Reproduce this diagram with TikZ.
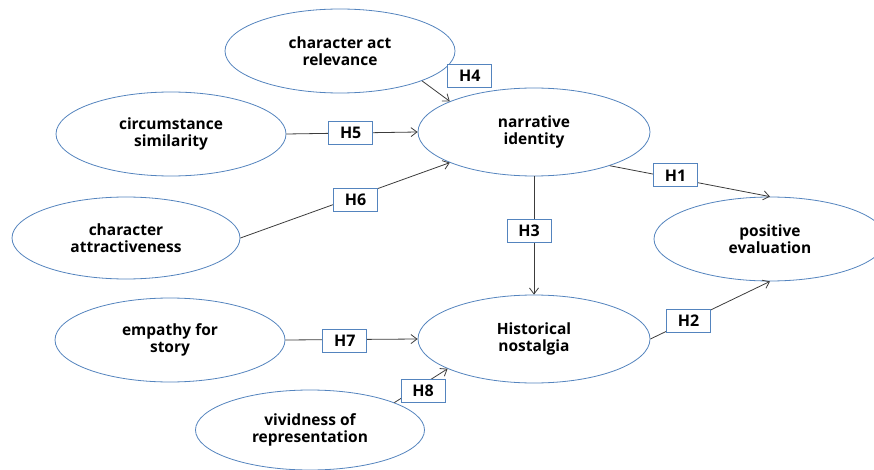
\documentclass[tikz,border=0pt]{standalone}
\usepackage{fontspec}
\setmainfont{Open Sans}
\usepackage{tikz}
\usetikzlibrary{shapes,arrows.meta}

\begin{document}
\begin{tikzpicture}[x=1pt, y=-1pt, thick]
  % Colours of the research model
  \definecolor{cRim}{RGB}{84,132,190}    % ellipse and box outline
  \definecolor{cPath}{RGB}{60,60,60}     % paths between constructs

  \tikzset{
    construct/.style={ellipse, draw=cRim, line width=0.8pt, fill=white,
      minimum width=230pt, minimum height=84pt, inner sep=0pt, align=center,
      font=\bfseries\fontsize{15.5}{17.5}\selectfont},
    hypo/.style={draw=cRim, line width=0.8pt, fill=white, minimum width=44pt,
      minimum height=23pt, inner sep=0pt, font=\bfseries\fontsize{16}{18}\selectfont},
    link/.style={draw=cPath, line width=0.8pt, -{Straight Barb[length=6pt,width=9pt]}}
  }

  % Frame of the page (the right ellipse runs past it)
  \useasboundingbox (0,0) rectangle (874,470);
  \clip (0,0) rectangle (874,470);

  % Antecedents on the left
  \node[construct] (car) at (340,51)  {character act\\relevance};
  \node[construct] (cs)  at (171,134) {circumstance\\similarity};
  \node[construct, minimum width=228pt, minimum height=82pt] (ca) at (126,238) {character\\attractiveness};
  \node[construct] (es)  at (170,340) {empathy for\\story};
  \node[construct, minimum width=229pt, minimum height=80pt] (vr) at (310,430) {vividness of\\representation};

  % Mediators in the middle
  \node[construct, minimum width=232pt, minimum height=88pt] (ni) at (534,132) {narrative\\identity};
  \node[construct, minimum width=232pt, minimum height=88pt] (hn) at (534,339) {Historical\\nostalgia};

  % Outcome on the right
  \node[construct, minimum width=232pt] (pe) at (770,239) {positive\\evaluation};

  % Hypothesised paths
  \draw[link] (car.-20) -- (ni.160) node[hypo, pos=0.5, xshift=34pt, yshift=15pt] {H4};
  \draw[link] (cs.east) -- (ni.west) node[hypo, pos=0.49] {H5};
  \draw[link] (ca.east) -- (ni.200) node[hypo, pos=0.55, yshift=-3pt] {H6};
  \draw[link] (ni.-24) -- (pe.north) node[hypo, pos=0.41, yshift=3pt] {H1};
  \draw[link] (ni.south) -- (hn.north) node[hypo, pos=0.46, xshift=-5pt] {H3};
  \draw[link] (hn.east) -- (pe.south) node[hypo, pos=0.32] {H2};
  \draw[link] (es.east) -- (hn.west) node[hypo, pos=0.45, yshift=-1pt] {H7};
  \draw[link] (vr.18) -- (hn.199) node[hypo, pos=0.5, xshift=2pt, yshift=-5pt] {H8};

\end{tikzpicture}
\end{document}
